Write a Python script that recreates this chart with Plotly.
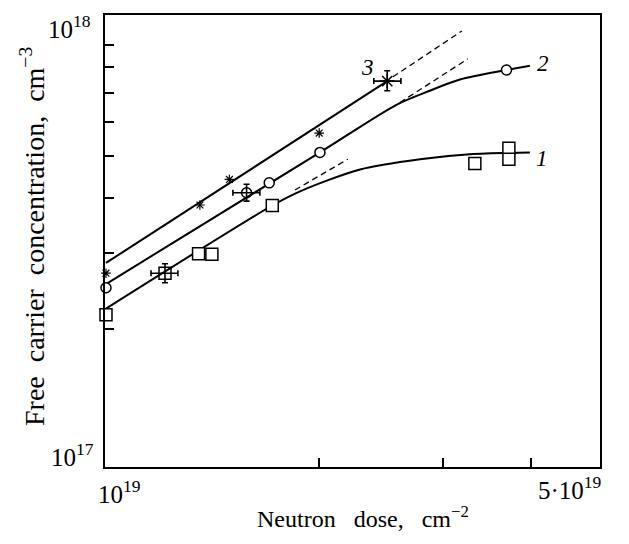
import plotly.graph_objects as go

# ---------------- data ----------------
# series 1: open squares
sq_x = [1.0e19, 1.352e19, 1.412e19, 1.719e19, 3.326e19, 3.716e19, 3.716e19]
sq_y = [2.16e17, 2.98e17, 2.975e17, 3.85e17, 4.81e17, 5.21e17, 4.92e17]
sqe_x = [1.212e19]
sqe_y = [2.69e17]
sqe_xp, sqe_xm = [0.052e19], [0.054e19]
sqe_yp, sqe_ym = [0.137e17], [0.133e17]

# series 2: open circles
ci_x = [1.0e19, 1.702e19, 2.008e19, 3.687e19]
ci_y = [2.49e17, 4.34e17, 5.10e17, 7.89e17]
cie_x = [1.581e19]
cie_y = [4.12e17]
cie_xp, cie_xm = [0.070e19], [0.069e19]
cie_yp, cie_ym = [0.19e17], [0.18e17]

# series 3: asterisks
st_x = [1.0e19, 1.358e19, 1.495e19, 2.003e19]
st_y = [2.69e17, 3.86e17, 4.42e17, 5.65e17]
ste_x = [2.5e19]
ste_y = [7.44e17]
ste_xp, ste_xm = [0.114e19], [0.107e19]
ste_yp, ste_ym = [0.42e17], [0.37e17]

# fitted curves
c1_x = [1.0e19, 1.719e19, 1.882e19, 2.288e19, 2.782e19, 3.273e19, 3.979e19]
c1_y = [2.23e17, 3.85e17, 4.15e17, 4.66e17, 4.92e17, 5.05e17, 5.10e17]
c2_x = [1.0e19, 2.008e19, 2.58e19, 2.873e19, 3.168e19, 3.687e19, 3.979e19]
c2_y = [2.54e17, 5.10e17, 6.57e17, 7.07e17, 7.50e17, 7.89e17, 8.07e17]
c3_x = [1.0e19, 2.5e19]
c3_y = [2.84e17, 7.44e17]

# dashed linear extrapolations
d1_x = [1.851e19, 2.199e19]
d1_y = [4.18e17, 4.92e17]
d2_x = [2.605e19, 3.251e19]
d2_y = [6.64e17, 8.37e17]
d3_x = [2.547e19, 3.188e19]
d3_y = [7.61e17, 9.70e17]

x_ticks = [2e19, 3e19, 4e19]
y_ticks = [2e17, 3e17, 4e17, 5e17, 6e17, 7e17, 8e17, 9e17]

# ---------------- figure ----------------
OFF = 8                      # default page margin of the html body
W, H = 629 - OFF, 544 - OFF
L, T = 105 - OFF, 13 - OFF
R = W - (600 - OFF)
B = H - (467 - OFF)
FONT = "Liberation Serif"

def px(p):
    return (p - OFF - L) / (W - L - R)

def py(p):
    return (H - B - (p - OFF)) / (H - T - B)

fig = go.Figure()

for cx, cy in [(c1_x, c1_y), (c2_x, c2_y), (c3_x, c3_y)]:
    fig.add_trace(go.Scatter(x=cx, y=cy, mode="lines",
                             line=dict(color="black", width=2, shape="spline", smoothing=0.8),
                             hoverinfo="skip", showlegend=False))
for dx, dy in [(d1_x, d1_y), (d2_x, d2_y), (d3_x, d3_y)]:
    fig.add_trace(go.Scatter(x=dx, y=dy, mode="lines",
                             line=dict(color="black", width=1.3, dash="6px,4px"),
                             hoverinfo="skip", showlegend=False))

mk = dict(color="white", line=dict(color="black", width=1.5))
fig.add_trace(go.Scatter(x=sq_x, y=sq_y, mode="markers", cliponaxis=False,
                         marker=dict(symbol="square", size=12, **mk), showlegend=False))
fig.add_trace(go.Scatter(x=ci_x, y=ci_y, mode="markers", cliponaxis=False,
                         marker=dict(symbol="circle", size=10, **mk), showlegend=False))
fig.add_trace(go.Scatter(x=st_x, y=st_y, mode="markers", cliponaxis=False,
                         marker=dict(symbol="asterisk-open", size=8, color="black",
                                     line=dict(color="black", width=1.2)), showlegend=False))

def errtrace(x, y, xp, xm, yp, ym, symbol, size):
    return go.Scatter(
        x=x, y=y, mode="markers", cliponaxis=False, showlegend=False,
        marker=dict(symbol=symbol, size=size, color="black",
                    line=dict(color="black", width=1.5)),
        error_x=dict(type="data", symmetric=False, array=xp, arrayminus=xm,
                     color="black", thickness=1.6, width=3),
        error_y=dict(type="data", symmetric=False, array=yp, arrayminus=ym,
                     color="black", thickness=1.6, width=3))

fig.add_trace(errtrace(sqe_x, sqe_y, sqe_xp, sqe_xm, sqe_yp, sqe_ym, "square-open", 12))
fig.add_trace(errtrace(cie_x, cie_y, cie_xp, cie_xm, cie_yp, cie_ym, "circle-open", 10))
fig.add_trace(errtrace(ste_x, ste_y, ste_xp, ste_xm, ste_yp, ste_ym, "asterisk-open", 12))

axis_common = dict(type="log", showgrid=False, zeroline=False, showline=True,
                   linecolor="black", linewidth=2, mirror=True,
                   ticks="inside", ticklen=9, tickwidth=2, tickcolor="black",
                   showticklabels=False)
fig.update_xaxes(range=[18.9986, 19.699], tickvals=x_ticks, **axis_common)
fig.update_yaxes(range=[16.984, 18.0236], tickvals=y_ticks, **axis_common)

ann = []
def text(t, x, y, xa="center", ya="middle", size=22, angle=0):
    ann.append(dict(text=t, x=px(x), y=py(y), xref="paper", yref="paper",
                    xanchor=xa, yanchor=ya, showarrow=False, textangle=angle,
                    font=dict(family=FONT, size=size, color="black")))

# tick labels
text("10<sup>18</sup>", 93, 25, xa="right", size=25)
text("10<sup>17</sup>", 96, 455, xa="right", size=25)
text("10<sup>19</sup>", 96, 492, xa="left", size=25)
text("5\u00b710<sup>19</sup>", 536, 488, xa="left", size=25)
# axis titles
text("Neutron\u00a0\u00a0 dose,\u00a0\u00a0 cm<sup>\u22122</sup>", 363, 517, size=24)
text("Free\u00a0 carrier\u00a0 concentration,\u00a0 cm<sup>\u22123</sup>", 32, 236,
     size=28, angle=-90)
# curve labels
text("<i>3</i>", 367, 66, size=23)
text("<i>2</i>", 543, 62, size=23)
text("<i>1</i>", 542, 157, size=23)

fig.update_layout(width=W, height=H, margin=dict(l=L, r=R, t=T, b=B),
                  paper_bgcolor="white", plot_bgcolor="white",
                  annotations=ann, showlegend=False)

fig.write_html("out.html")
